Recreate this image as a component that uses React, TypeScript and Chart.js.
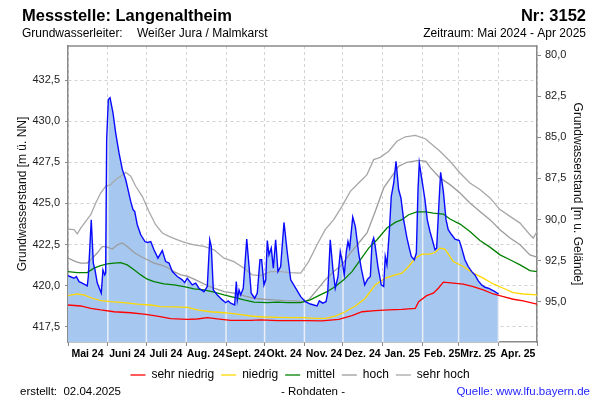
import React, { useEffect, useRef } from 'react';
import { Chart, registerables } from 'chart.js';

Chart.register(...registerables);

const FONT = '"Liberation Sans", Arial, Helvetica, sans-serif';

// ---------- axis / category data ----------
const MONTH_LABELS = ['Mai 24', 'Juni 24', 'Juli 24', 'Aug. 24', 'Sept. 24', 'Okt. 24', 'Nov. 24', 'Dez. 24', 'Jan. 25', 'Feb. 25', 'Mrz. 25', 'Apr. 25'];
// days since 01.05.2024 at which each month starts (last = 01.05.2025)
const MONTH_START_DAYS = [0, 31, 61, 92, 123, 153, 184, 214, 245, 276, 304, 335, 365];
const LEFT_TICKS = [417.5, 420, 422.5, 425, 427.5, 430, 432.5];
const RIGHT_TICKS = [80, 82.5, 85, 87.5, 90, 92.5, 95];
const LEFT_MIN = 416.57;
const LEFT_MAX = 434.57;
const GROUND_LEVEL = 514.02; // m ü. NN  (m u. Gelände = GROUND_LEVEL - Wasserstand)

// ---------- measured values (Rohdaten) ----------
const MESS_DAYS = [0, 4.7, 6.5, 8.6, 11.1, 15.0, 15.8, 18.1, 19.7, 21.0, 22.8, 25.9, 27.2, 28.6, 29.3, 30.1, 31.4, 32.7, 35.0, 37.1, 39.7, 42.3, 44.9, 46.7, 48.8, 50.6, 51.9, 53.9, 56.6, 59.9, 61.7, 64.4, 66.9, 70.0, 73.4, 76.0, 78.6, 81.2, 85.1, 88.9, 90.8, 92.8, 96.7, 99.4, 101.9, 105.8, 108.4, 110.3, 111.5, 113.1, 116.2, 120.1, 122.7, 124.7, 126.6, 129.7, 131.0, 131.8, 133.1, 134.4, 136.4, 139.1, 140.9, 142.6, 145.3, 147.3, 149.4, 150.7, 152.5, 153.9, 155.1, 156.4, 158.2, 159.8, 161.6, 163.4, 165.5, 168.1, 170.7, 173.3, 177.2, 181.1, 184.7, 188.6, 193.8, 195.6, 198.2, 200.8, 202.1, 204.1, 206.2, 208.0, 210.1, 211.9, 213.2, 215.0, 216.6, 217.9, 219.2, 221.6, 223.6, 226.2, 228.2, 230.9, 233.2, 235.3, 236.6, 237.9, 239.1, 241.2, 243.8, 245.7, 246.9, 248.2, 250.0, 251.6, 253.5, 255.3, 257.3, 259.1, 261.2, 263.8, 265.6, 267.2, 269.5, 271.1, 272.4, 273.4, 275.5, 277.8, 279.6, 281.7, 283.5, 285.6, 286.9, 288.7, 290.0, 292.1, 294.2, 295.9, 298.6, 301.2, 304.5, 306.4, 308.9, 311.5, 314.2, 316.7, 319.3, 321.9, 324.5, 327.1, 329.7, 332.3, 335];
const MESS_VALUES = [420.6, 420.45, 420.55, 420.24, 420.15, 419.98, 420.55, 424.0, 421.37, 420.96, 420.15, 419.54, 420.96, 420.65, 420.76, 428.88, 431.32, 431.43, 430.51, 429.29, 428.07, 427.05, 426.45, 425.84, 425.12, 424.62, 424.51, 423.7, 423.09, 422.68, 422.62, 422.68, 422.18, 421.67, 422.13, 421.46, 421.37, 420.85, 420.55, 420.35, 420.18, 420.45, 420.04, 420.15, 419.84, 419.63, 419.94, 422.79, 422.38, 419.74, 419.43, 419.13, 418.96, 419.07, 418.93, 418.82, 420.24, 419.13, 419.74, 419.43, 419.84, 422.83, 421.16, 419.54, 419.23, 419.54, 421.57, 421.57, 420.04, 420.35, 422.74, 421.87, 422.28, 421.06, 422.79, 420.85, 421.16, 423.84, 421.98, 420.35, 419.84, 419.33, 419.02, 418.88, 418.76, 419.07, 418.93, 419.02, 419.54, 422.79, 420.96, 419.84, 420.55, 422.07, 421.57, 420.65, 422.07, 422.68, 422.28, 424.17, 423.6, 421.98, 421.06, 420.04, 420.39, 420.55, 422.59, 422.89, 422.38, 421.16, 420.04, 419.94, 421.77, 421.26, 423.2, 425.43, 426.24, 427.56, 425.84, 425.33, 424.01, 422.89, 422.28, 421.77, 421.57, 421.98, 425.84, 427.46, 426.4, 425.23, 424.01, 423.29, 422.79, 422.18, 422.28, 425.02, 426.89, 425.73, 424.01, 423.4, 423.09, 422.83, 422.74, 422.28, 421.57, 421.16, 420.85, 420.65, 420.29, 420.04, 419.9, 419.84, 419.74, 419.63, 419.49];

// ---------- reference lines ----------
const SEHR_NIEDRIG_DAYS = [0, 9.9, 17.7, 25.4, 35.8, 48.8, 59.1, 69.5, 79.9, 92.8, 100.6, 108.4, 116.2, 126.6, 142.2, 150.0, 162.9, 175.9, 186.2, 197.7, 210.7, 221.0, 228.8, 239.1, 249.6, 259.9, 270.3, 272.9, 279.1, 284.3, 288.2, 292.1, 299.9, 307.6, 315.4, 323.2, 331.0, 338.8, 346.5, 354.3, 365];
const SEHR_NIEDRIG = [418.82, 418.76, 418.62, 418.52, 418.41, 418.35, 418.27, 418.15, 417.99, 417.95, 417.97, 418.05, 417.97, 417.89, 417.89, 417.91, 417.87, 417.87, 417.87, 417.85, 417.95, 418.17, 418.41, 418.48, 418.52, 418.56, 418.62, 419.02, 419.39, 419.54, 419.84, 420.21, 420.15, 420.09, 419.94, 419.74, 419.49, 419.33, 419.17, 419.07, 418.87];

const NIEDRIG_DAYS = [0, 7.2, 12.5, 18.9, 25.4, 33.2, 43.6, 53.9, 64.4, 72.1, 82.5, 92.8, 100.6, 111.0, 121.4, 131.8, 142.2, 152.5, 162.9, 173.3, 183.7, 192.5, 200.2, 208.0, 215.8, 223.6, 231.4, 239.1, 246.9, 254.7, 259.9, 265.1, 270.3, 275.5, 281.7, 285.6, 289.5, 293.4, 299.9, 307.6, 315.4, 323.2, 331.0, 338.8, 346.5, 354.3, 365];
const NIEDRIG = [419.39, 419.49, 419.43, 419.23, 419.09, 419.02, 418.96, 418.87, 418.82, 418.72, 418.7, 418.68, 418.52, 418.41, 418.35, 418.26, 418.15, 418.09, 418.07, 418.05, 418.05, 418.01, 418.01, 418.15, 418.41, 418.76, 419.23, 420.04, 420.45, 420.65, 420.76, 421.16, 421.67, 421.91, 421.91, 422.01, 422.28, 422.22, 421.46, 421.16, 420.76, 420.45, 420.1, 419.84, 419.57, 419.49, 419.43];

const MITTEL_DAYS = [0, 7.2, 15.0, 20.2, 25.4, 30.6, 35.8, 41.0, 46.1, 51.4, 56.6, 61.7, 66.9, 74.7, 82.5, 90.3, 98.1, 105.8, 113.6, 121.4, 129.2, 137.0, 144.7, 155.1, 162.9, 170.7, 181.1, 188.6, 195.1, 201.6, 208.0, 214.6, 221.0, 227.5, 234.0, 240.5, 248.2, 254.7, 259.9, 265.1, 271.6, 278.6, 284.3, 292.1, 297.3, 305.1, 312.8, 320.6, 328.4, 336.2, 344.0, 351.8, 359.5, 365];
const MITTEL = [420.85, 420.79, 420.79, 421.06, 421.22, 421.32, 421.37, 421.4, 421.26, 420.96, 420.65, 420.39, 420.24, 420.1, 420.04, 419.94, 419.8, 419.74, 419.6, 419.43, 419.29, 419.13, 418.99, 418.96, 418.99, 418.96, 418.96, 419.13, 419.39, 419.63, 419.94, 420.35, 420.85, 421.57, 422.28, 422.79, 423.5, 423.84, 424.01, 424.31, 424.48, 424.48, 424.41, 424.35, 424.05, 423.74, 423.29, 422.74, 422.34, 421.87, 421.57, 421.26, 420.91, 420.85];

const HOCH_DAYS = [0, 6.0, 9.9, 15.0, 18.9, 22.8, 26.7, 30.6, 34.5, 38.4, 42.3, 46.1, 51.4, 56.6, 61.7, 66.9, 72.1, 77.3, 82.5, 87.7, 92.8, 98.1, 105.8, 113.6, 121.4, 129.2, 137.0, 144.7, 152.5, 160.3, 168.1, 175.9, 183.7, 187.3, 193.8, 200.2, 206.8, 213.2, 219.7, 226.2, 232.7, 239.1, 245.7, 252.1, 257.4, 263.8, 272.9, 278.6, 281.7, 289.5, 297.3, 305.1, 312.8, 320.6, 328.4, 336.2, 344.0, 351.8, 359.5, 365];
const HOCH = [421.67, 421.46, 421.37, 421.37, 421.67, 421.98, 422.38, 422.34, 422.22, 422.48, 422.59, 422.38, 422.01, 421.77, 421.57, 421.37, 421.26, 421.1, 420.85, 420.65, 420.58, 420.39, 420.1, 419.84, 419.63, 419.54, 419.37, 419.23, 419.17, 419.13, 419.09, 419.07, 419.02, 419.13, 419.74, 420.35, 420.85, 421.26, 421.98, 422.59, 423.2, 424.51, 425.94, 426.65, 427.26, 427.5, 427.62, 427.55, 427.2, 426.55, 426.14, 425.63, 425.02, 424.51, 424.01, 423.4, 422.89, 422.48, 421.87, 421.73];

const SEHR_HOCH_DAYS = [0, 4.7, 7.2, 9.9, 13.8, 17.7, 21.6, 25.4, 29.3, 33.2, 37.1, 41.0, 44.9, 48.8, 52.7, 57.8, 63.0, 68.2, 73.4, 78.6, 83.8, 88.9, 92.8, 98.1, 105.8, 113.6, 121.4, 129.2, 137.0, 143.4, 150.0, 157.7, 165.5, 173.3, 181.1, 187.3, 193.8, 200.2, 206.8, 213.2, 219.7, 226.2, 232.7, 237.9, 243.0, 249.6, 256.0, 262.5, 270.3, 278.1, 281.7, 289.5, 297.3, 305.1, 312.8, 320.6, 328.4, 336.2, 344.0, 351.8, 359.5, 362.1, 365];
const SEHR_HOCH = [423.44, 423.4, 423.15, 423.5, 423.9, 424.31, 425.02, 425.63, 426.04, 426.14, 426.45, 426.65, 426.89, 426.65, 426.04, 425.43, 424.51, 423.7, 423.2, 422.99, 422.83, 422.68, 422.59, 422.48, 422.38, 422.18, 421.67, 421.46, 421.06, 420.65, 420.61, 420.85, 420.85, 420.79, 420.76, 421.46, 422.48, 423.4, 424.01, 424.82, 425.73, 426.24, 426.75, 427.66, 427.8, 428.17, 428.78, 429.05, 429.13, 428.93, 428.68, 428.17, 427.56, 426.85, 426.24, 425.84, 425.33, 424.62, 424.21, 423.8, 423.09, 422.89, 423.29];

// ---------- texts ----------
const TITLE = 'Messstelle: Langenaltheim';
const NUMBER = 'Nr: 3152';
const AQUIFER_LABEL = 'Grundwasserleiter:';
const AQUIFER = 'Weißer Jura / Malmkarst';
const PERIOD = 'Zeitraum: Mai 2024 - Apr 2025';
const CREATED = 'erstellt:  02.04.2025';
const RAW = '- Rohdaten -';
const SOURCE = 'Quelle: www.lfu.bayern.de';

const FILL_INDEX = 6;

const fmt = (v: number) => v.toFixed(1).replace('.', ',');
const toPoints = (days: number[], vals: number[]) => days.map((d, i) => ({ x: d, y: vals[i] }));

function messValueAt(day: number): number | null {
  for (let i = 0; i < MESS_DAYS.length - 1; i++) {
    const a = MESS_DAYS[i], b = MESS_DAYS[i + 1];
    if (day >= a && day <= b) {
      const t = b === a ? 0 : (day - a) / (b - a);
      return MESS_VALUES[i] + t * (MESS_VALUES[i + 1] - MESS_VALUES[i]);
    }
  }
  return null;
}

const monthLinesPlugin = {
  id: 'monthLines',
  afterDatasetDraw(chart: any, args: any) {
    if (args.index !== FILL_INDEX) return;
    const { ctx, chartArea, scales } = chart;
    ctx.save();
    ctx.beginPath();
    ctx.rect(chartArea.left, chartArea.top, chartArea.right - chartArea.left, chartArea.bottom - chartArea.top);
    ctx.clip();
    ctx.strokeStyle = '#eaeef4';
    ctx.lineWidth = 1.5;
    ctx.beginPath();
    for (const d of MONTH_START_DAYS) {
      if (d <= MESS_DAYS[0]) continue;
      const v = messValueAt(d);
      if (v === null) continue;
      const x = scales.x.getPixelForValue(d);
      ctx.moveTo(x, chartArea.bottom);
      ctx.lineTo(x, scales.y.getPixelForValue(v));
    }
    ctx.stroke();
    ctx.restore();
  },
};

const textPlugin = {
  id: 'headerFooter',
  afterDraw(chart: any) {
    const { ctx, chartArea } = chart;
    ctx.save();
    // top border of the plot frame
    ctx.strokeStyle = '#8a8a8a';
    ctx.lineWidth = 1.5;
    ctx.beginPath();
    ctx.moveTo(chartArea.left, chartArea.top);
    ctx.lineTo(chartArea.right, chartArea.top);
    ctx.stroke();

    ctx.fillStyle = '#000';
    ctx.textBaseline = 'alphabetic';
    ctx.font = `bold 16.5px ${FONT}`;
    ctx.textAlign = 'left';
    ctx.fillText(TITLE, 22, 21);
    ctx.textAlign = 'right';
    ctx.fillText(NUMBER, 586, 21);

    ctx.font = `12px ${FONT}`;
    ctx.textAlign = 'left';
    ctx.fillText(AQUIFER_LABEL, 22, 37);
    ctx.fillText(AQUIFER, 137, 37);
    ctx.textAlign = 'right';
    ctx.fillText(PERIOD, 586, 37);

    ctx.font = `11.5px ${FONT}`;
    ctx.textAlign = 'left';
    ctx.fillText(CREATED, 20, 395);
    ctx.textAlign = 'center';
    ctx.fillText(RAW, 313, 395);
    ctx.textAlign = 'right';
    ctx.fillStyle = '#1f1fff';
    ctx.fillText(SOURCE, 590, 395);
    ctx.restore();
  },
};

export default function App() {
  const canvasRef = useRef<HTMLCanvasElement | null>(null);

  useEffect(() => {
    const canvas = canvasRef.current;
    if (!canvas) return;

    const refLine = (label: string, color: string, days: number[], vals: number[]) => ({
      label,
      data: toPoints(days, vals),
      borderColor: color,
      backgroundColor: color,
      borderWidth: 1.3,
      pointRadius: 0,
      tension: 0,
      fill: false,
      order: 5,
    });

    const chart = new Chart(canvas, {
      type: 'line',
      data: {
        datasets: [
          refLine('sehr niedrig', '#ff0000', SEHR_NIEDRIG_DAYS, SEHR_NIEDRIG),
          refLine('niedrig', '#ffd800', NIEDRIG_DAYS, NIEDRIG),
          refLine('mittel', '#008000', MITTEL_DAYS, MITTEL),
          refLine('hoch', '#9c9c9c', HOCH_DAYS, HOCH),
          refLine('sehr hoch', '#a8a8a8', SEHR_HOCH_DAYS, SEHR_HOCH),
          {
            label: 'Messwerte',
            data: toPoints(MESS_DAYS, MESS_VALUES),
            borderColor: '#0a0aff',
            backgroundColor: '#0a0aff',
            borderWidth: 1.4,
            pointRadius: 0,
            tension: 0,
            fill: false,
            order: 0,
          },
          {
            label: 'Messwerte Fläche',
            data: toPoints(MESS_DAYS, MESS_VALUES),
            borderColor: 'rgba(0,0,0,0)',
            backgroundColor: '#a6c8f0',
            borderWidth: 0,
            pointRadius: 0,
            tension: 0,
            fill: 'start',
            order: 20,
          },
        ],
      } as any,
      options: {
        responsive: false,
        maintainAspectRatio: false,
        animation: false,
        devicePixelRatio: 1,
        events: [],
        layout: { padding: { top: 46, left: 0, right: 0, bottom: 9 } },
        scales: {
          x: {
            type: 'linear',
            min: 0,
            max: 365,
            afterBuildTicks: (s: any) => {
              s.ticks = MONTH_START_DAYS.map((v) => ({ value: v }));
            },
            afterFit: (s: any) => {
              s.height = 20;
            },
            ticks: {
              autoSkip: false,
              maxRotation: 0,
              minRotation: 0,
              labelOffset: 19.5,
              padding: 2,
              color: '#000',
              font: { family: FONT, size: 10.5, weight: 'bold' },
              callback: (_v: any, i: number) => MONTH_LABELS[i] ?? '',
            },
            grid: { color: '#d2d2d2', lineWidth: 1, tickLength: 4, tickColor: '#8a8a8a' },
            border: { display: true, color: '#8a8a8a', width: 1.5, dash: [3, 3] },
          },
          y: {
            type: 'linear',
            position: 'left',
            min: LEFT_MIN,
            max: LEFT_MAX,
            afterBuildTicks: (s: any) => {
              s.ticks = LEFT_TICKS.map((v) => ({ value: v }));
            },
            afterFit: (s: any) => {
              s.width = 68;
            },
            ticks: {
              padding: 5,
              color: '#222',
              font: { family: FONT, size: 11 },
              callback: (v: any) => fmt(Number(v)),
            },
            grid: { color: '#d2d2d2', lineWidth: 1, tickLength: 3, tickColor: '#8a8a8a' },
            border: { display: true, color: '#8a8a8a', width: 1.5, dash: [3, 3] },
            title: {
              display: true,
              text: 'Grundwasserstand [m ü. NN]',
              color: '#111',
              font: { family: FONT, size: 12 },
              padding: { top: 15, bottom: 0 },
            },
          },
          y2: {
            type: 'linear',
            position: 'right',
            reverse: true,
            min: GROUND_LEVEL - LEFT_MAX,
            max: GROUND_LEVEL - LEFT_MIN,
            afterBuildTicks: (s: any) => {
              s.ticks = RIGHT_TICKS.map((v) => ({ value: v }));
            },
            afterFit: (s: any) => {
              s.width = 63;
            },
            ticks: {
              padding: 4,
              color: '#222',
              font: { family: FONT, size: 11 },
              callback: (v: any) => fmt(Number(v)),
            },
            grid: { drawOnChartArea: false, tickLength: 4, tickColor: '#8a8a8a' },
            border: { display: true, color: '#8a8a8a', width: 1.5 },
            title: {
              display: true,
              text: 'Grundwasserstand [m u. Gelände]',
              color: '#111',
              font: { family: FONT, size: 12 },
              padding: { top: 15, bottom: 0 },
            },
          },
        },
        plugins: {
          legend: {
            display: true,
            position: 'bottom',
            labels: {
              filter: (item: any) => item.datasetIndex < 5,
              usePointStyle: true,
              pointStyle: 'line',
              pointStyleWidth: 15,
              color: '#000',
              padding: 7,
              font: { family: FONT, size: 12 },
            },
          },
          tooltip: { enabled: false },
          title: { display: false },
        },
      } as any,
      plugins: [monthLinesPlugin, textPlugin],
    });

    return () => chart.destroy();
  }, []);

  return (
    <div style={{ position: 'absolute', left: 0, top: 0, width: 600, height: 400, background: '#fff' }}>
      <canvas ref={canvasRef} width={600} height={400} style={{ display: 'block', width: 600, height: 400 }} />
    </div>
  );
}
